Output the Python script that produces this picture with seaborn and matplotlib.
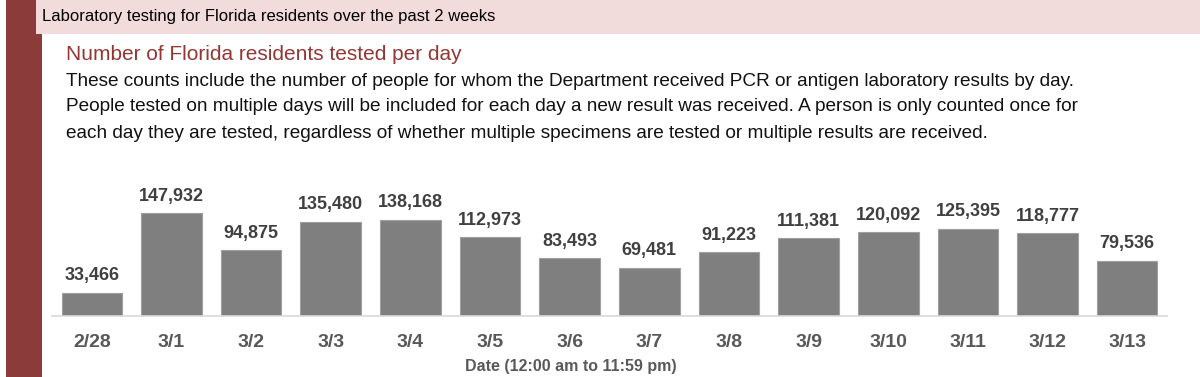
import matplotlib
matplotlib.use("Agg")
import matplotlib.pyplot as plt
import seaborn as sns
import pandas as pd
from matplotlib.patches import Rectangle

# data
dates = ["2/28", "3/1", "3/2", "3/3", "3/4", "3/5", "3/6",
         "3/7", "3/8", "3/9", "3/10", "3/11", "3/12", "3/13"]
tested = [33466, 147932, 94875, 135480, 138168, 112973, 83493,
          69481, 91223, 111381, 120092, 125395, 118777, 79536]

header = "Laboratory testing for Florida residents over the past 2 weeks"
subtitle = "Number of Florida residents tested per day"
notes = [
    "These counts include the number of people for whom the Department received PCR or antigen laboratory results by day.",
    "People tested on multiple days will be included for each day a new result was received. A person is only counted once for",
    "each day they are tested, regardless of whether multiple specimens are tested or multiple results are received.",
]
xlabel = "Date (12:00 am to 11:59 pm)"

df = pd.DataFrame({"date": dates, "tested": tested})

sns.set_style("white")
plt.rcParams["font.family"] = ["Liberation Sans", "DejaVu Sans"]

W, H = 1200, 377
fig = plt.figure(figsize=(W / 100, H / 100), dpi=100)
fig.patch.set_facecolor("white")

def fx(px):
    return px / W

def fy(py):
    return 1 - py / H

# left red strip and header band
fig.patches.append(Rectangle((fx(6), 0), fx(36), 1, transform=fig.transFigure,
                             facecolor="#8c3b3b", edgecolor="none", zorder=0))
fig.patches.append(Rectangle((fx(36), fy(34)), 1 - fx(36), 34 / H, transform=fig.transFigure,
                             facecolor="#f2dcdb", edgecolor="none", zorder=1))

fig.text(fx(42), fy(17), header, fontsize=12, color="black", va="center")
fig.text(fx(66), fy(55), subtitle, fontsize=15, color="#943634", va="center")
for i, line in enumerate(notes):
    fig.text(fx(66), fy(81 + 26 * i), line, fontsize=13.7, color="#111111", va="center")

# bar chart
ax = fig.add_axes([fx(52), fy(316), fx(1167 - 52), 126 / H])
sns.barplot(data=df, x="date", y="tested", color="#7f7f7f", width=0.76,
            edgecolor="#a0a0a0", linewidth=0.8, saturation=1, ax=ax)
ax.set_xlim(-0.5, len(dates) - 0.5)
ax.set_ylim(0, 181000)

for i, v in enumerate(tested):
    ax.annotate(f"{v:,}", (i, v), xytext=(0, 6), textcoords="offset points",
                ha="center", va="bottom", fontweight="bold",
                fontsize=13, color="#404040")

for s in ["top", "right", "left"]:
    ax.spines[s].set_visible(False)
ax.spines["bottom"].set_color("#d9d9d9")
ax.spines["bottom"].set_linewidth(1.2)
ax.set_yticks([])
ax.set_ylabel("")
ax.set_xlabel("")
ax.tick_params(axis="x", which="major", length=0, pad=13, labelsize=14, labelcolor="#595959")
for lab in ax.get_xticklabels():
    lab.set_fontweight("bold")
ax.set_xticks([i - 0.5 for i in range(len(dates) + 1)], minor=True)
ax.tick_params(axis="x", which="minor", length=5, width=1.2, color="#d9d9d9")

fig.text(fx(571), fy(366), xlabel, fontweight="bold", fontsize=11.5,
         color="#595959", ha="center", va="center")

fig.savefig("out.png", dpi=100)
